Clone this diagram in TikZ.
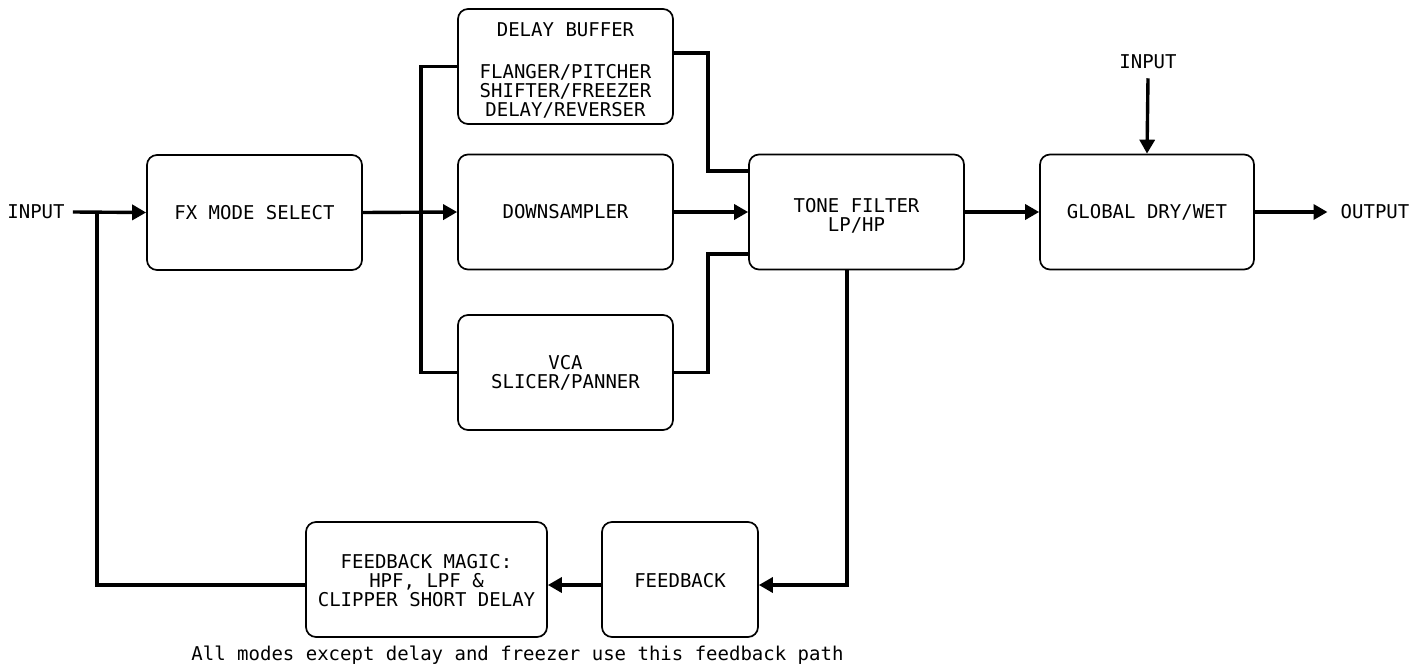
\documentclass[tikz,border=0pt]{standalone}
\usepackage{fontspec}
\setmonofont{DejaVu Sans Mono}
\usetikzlibrary{arrows.meta}
\tikzset{
  box/.style={draw=black, line width=1.7pt, rounded corners=10pt, inner sep=0pt,
    align=center, font=\ttfamily\fontsize{19}{19}\selectfont},
  lbl/.style={inner sep=0pt, font=\ttfamily\fontsize{19}{19}\selectfont},
  conn/.style={line width=3.4pt},
  arr/.style={line width=3.4pt, -{Triangle[length=14pt,width=15pt]}}
}
\begin{document}
\begin{tikzpicture}[x=1pt,y=-1pt]
\useasboundingbox (0,0) rectangle (1423,666);
% boxes
\node[box, minimum width=215pt, minimum height=115pt] (fx)   at (254.5,212.5) {FX MODE SELECT};
\node[box, minimum width=215pt, minimum height=115pt] (db)   at (565.5,66.5)  {\rule{0pt}{22pt}DELAY BUFFER\\[23pt]FLANGER/PITCHER\\SHIFTER/FREEZER\\DELAY/REVERSER};
\node[box, minimum width=215pt, minimum height=115pt] (ds)   at (565.5,212)   {DOWNSAMPLER};
\node[box, minimum width=215pt, minimum height=115pt] (vca)  at (565.5,372.5) {VCA\\SLICER/PANNER};
\node[box, minimum width=215pt, minimum height=115pt] (tone) at (856.5,212)   {\rule{0pt}{22pt}TONE FILTER\\LP/HP};
\node[box, minimum width=214pt, minimum height=115pt] (dw)   at (1147,212)    {GLOBAL DRY/WET};
\node[box, minimum width=241pt, minimum height=115pt] (fm)   at (426.5,579.5) {\rule{0pt}{17pt}FEEDBACK MAGIC:\\HPF, LPF \&\\CLIPPER SHORT DELAY};
\node[box, minimum width=156pt, minimum height=115pt] (fb)   at (680,579.5)   {\rule{0pt}{17pt}FEEDBACK};
% labels
\node[lbl] (inl) at (36,212) {INPUT};
\node[lbl] (int) at (1148,62) {INPUT};
\node[lbl] (out) at (1375,212) {OUTPUT};
\node[lbl] (cap) at (517.5,655) {All modes except delay and freezer use this feedback path};
% junctions
\coordinate (br) at (421,212);
\coordinate (j1) at (708,171);
\coordinate (j2) at (708,254);
\coordinate (j3) at (847,585);
\coordinate (j4) at (97,212);
% connectors
\draw[arr] ([xshift=8pt]inl.east) -- (fx.west);
\draw[arr] (fx.east) -- (ds.west);
\draw[conn] (db.west) -| (br) |- (vca.west);
\draw[conn] ([yshift=13.5pt]db.east) -| (j1) -- (j1 -| tone.west);
\draw[arr] (ds.east) -- (tone.west);
\draw[conn] (vca.east) -| (j2) -- (j2 -| tone.west);
\draw[arr] (tone.east) -- (dw.west);
\draw[arr] ([yshift=-9pt]int.south) -- (dw.north);
\draw[arr] (dw.east) -- ([xshift=-13pt]out.west);
\draw[arr] (j3 |- tone.south) -- (j3) -- (j3 -| fb.east);
\draw[arr] ([yshift=-5.5pt]fb.west) -- ([yshift=-5.5pt]fm.east);
\draw[conn] ([yshift=-5.5pt]fm.west) -| (j4);
\end{tikzpicture}
\end{document}
